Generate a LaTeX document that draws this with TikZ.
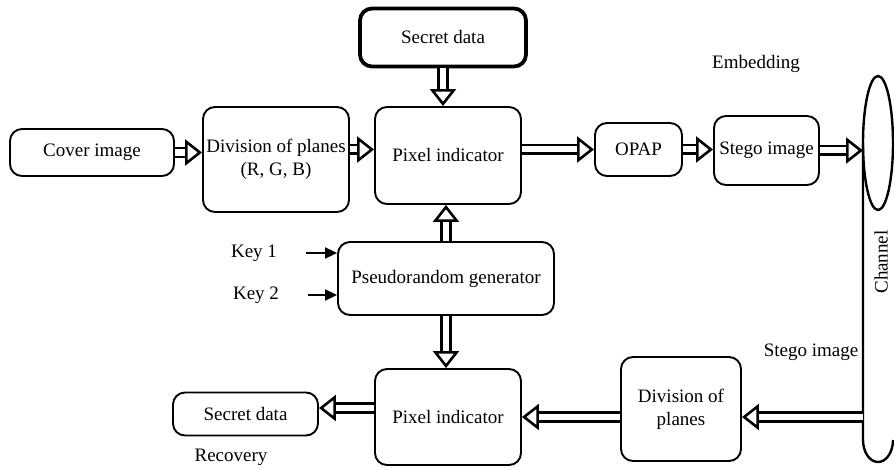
\documentclass[tikz,border=0pt]{standalone}
\usepackage{fontspec}
\setmainfont{Liberation Serif}
\usetikzlibrary{arrows.meta,calc}
% hollow flow arrow: double shaft plus an open head
\newcommand\flowarrow[2]{%
  \draw[flowshaft] (#1) -- (#2);
  \draw[flowhead] ($(#2)!17pt!(#1)$) -- (#2);}
\begin{document}
\begin{tikzpicture}[x=1pt,y=-1pt,
    font=\fontsize{19}{23}\selectfont,
    box/.style={draw,line width=1.9pt,rounded corners=12pt,align=center,inner sep=1pt},
    flowshaft/.style={double,double distance=6pt,line width=2.7pt,shorten >=16pt},
    flowhead/.style={line width=2.6pt,-{Triangle[open,length=17pt,width=26pt]}},
    keyin/.style={line width=2pt,-{Triangle[length=12pt,width=11pt]}}]
  \useasboundingbox (0,0) rectangle (894,468);
  % embedding side
  \node[box,line width=3.8pt,minimum width=166pt,minimum height=58pt] (sdtop) at (443,37.5) {Secret data};
  \node[box,minimum width=164pt,minimum height=47pt] (cover) at (92,152.5) {Cover image};
  \node[box,minimum width=146pt,minimum height=105pt] (divrgb) at (276,159.5) {Division of planes\\(R, G, B)};
  \node[box,minimum width=146pt,minimum height=97pt] (pixtop) at (448,155.5) {Pixel indicator};
  \node[box,minimum width=87pt,minimum height=53pt] (opap) at (638.5,149.5) {OPAP};
  \node[box,minimum width=105pt,minimum height=69pt] (stegotop) at (766.5,150.5) {Stego image};
  \node[box,minimum width=216pt,minimum height=73pt] (prng) at (446,278.5) {Pseudorandom generator};
  \node (key1) at (254,253) {Key 1};
  \node (key2) at (256,295) {Key 2};
  \node (embed) at (756,64) {Embedding};
  % recovery side
  \node[box,minimum width=146pt,minimum height=96pt] (pixbot) at (448,417) {Pixel indicator};
  \node[box,minimum width=120pt,minimum height=104pt] (divbot) at (681,409) {Division of\\planes};
  \node[box,minimum width=145pt,minimum height=43pt] (sdbot) at (245.5,414) {Secret data};
  \coordinate (sdin) at ([yshift=6pt]sdbot.east);
  \node (recov) at (231,457) {Recovery};
  \node (stegolbl) at (811,352) {Stego image};
  % channel
  \draw[line width=2.4pt] (878,143) ellipse [x radius=15pt,y radius=67pt];
  \draw[line width=2.4pt] (863,143) -- (863,440) arc[start angle=180,end angle=360,x radius=15pt,y radius=22pt];
  \coordinate (chleft) at (863,143);
  \node[rotate=90] (chlabel) at (881,262) {Channel};
  % flows
  \flowarrow{sdtop.south}{sdtop.south |- pixtop.north}
  \flowarrow{cover.east}{cover.east -| divrgb.west}
  \flowarrow{divrgb.east |- opap.west}{pixtop.west |- opap.west}
  \flowarrow{pixtop.east |- opap.west}{opap.west}
  \flowarrow{opap.east}{opap.east -| stegotop.west}
  \flowarrow{stegotop.east}{stegotop.east -| chleft}
  \flowarrow{prng.north}{prng.north |- pixtop.south}
  \flowarrow{prng.south}{prng.south |- pixbot.north}
  \flowarrow{chleft |- pixbot.east}{divbot.east |- pixbot.east}
  \flowarrow{divbot.west |- pixbot.east}{pixbot.east}
  \flowarrow{pixbot.west |- sdin}{sdin}
  \draw[keyin] (key1.east) ++(26pt,0) -- (key1.east -| prng.west);
  \draw[keyin] (key2.east) ++(26pt,0) -- (key2.east -| prng.west);
\end{tikzpicture}
\end{document}
